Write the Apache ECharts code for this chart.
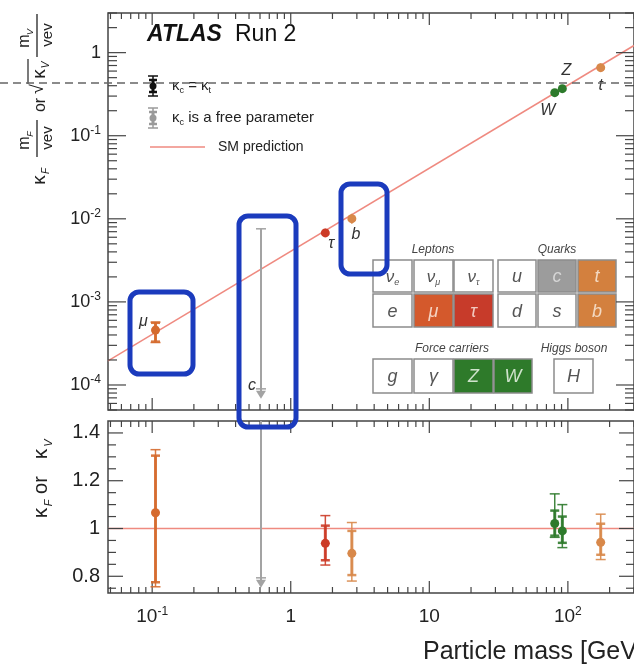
<!DOCTYPE html>
<html>
<head>
<meta charset="utf-8">
<script src="https://cdn.jsdelivr.net/npm/echarts@6/dist/echarts.min.js"></script>
<style>
  html, body { margin: 0; padding: 0; background: #ffffff; }
  #chart { width: 634px; height: 669px; }
</style>
</head>
<body>
<div id="chart"></div>
<script>
// Higgs vacuum expectation value [GeV]
const VEV = 246.22;

// Coupling-strength modifiers measured per particle (kappa), with the
// outer (total) and inner uncertainty intervals
const particles = ['μ', 'τ', 'b', 't', 'W', 'Z'];
const masses    = [0.1057, 1.777, 2.76, 172.5, 80.38, 91.19];
const kappa     = [1.066, 0.938, 0.896, 0.942, 1.021, 0.990];
const outerLo   = [0.756, 0.847, 0.780, 0.870, 0.963, 0.920];
const outerHi   = [1.330, 1.054, 1.025, 1.060, 1.145, 1.100];
const innerLo   = [0.775, 0.867, 0.805, 0.890, 0.970, 0.940];
const innerHi   = [1.305, 1.012, 0.990, 1.020, 1.075, 1.050];
const isBoson   = [false, false, false, false, true, true];

// Charm coupling fitted as a free parameter: upper end of the interval and
// the off-scale arrows in each panel
const charmMass = 0.61;
const charmKappaHi = 3.06;
const charmArrowReduced = 7.2e-5;
const charmArrowKappa = 0.76;

// Axis ranges and tick values
const X_MIN = 0.048, X_MAX = 300;
const Y_TOP_MIN = 5e-5, Y_TOP_MAX = 3;
const Y_BOT_MIN = 0.73, Y_BOT_MAX = 1.45;
const xMajorTicks = [0.1, 1, 10, 100];
const yTopMajorTicks = [1e-4, 1e-3, 1e-2, 1e-1, 1];
const yBotMajorTicks = [0.8, 1.0, 1.2, 1.4];
const yBotMinorTicks = [0.75, 0.85, 0.9, 0.95, 1.05, 1.1, 1.15, 1.25, 1.3, 1.35];

// Logarithmic minor ticks (2..9 in each decade) inside a range
function logMinor(lo, hi) {
  const out = [];
  for (let e = Math.floor(Math.log10(lo)); e <= Math.ceil(Math.log10(hi)); e++) {
    for (let k = 2; k <= 9; k++) {
      const v = k * Math.pow(10, e);
      if (v >= lo * 0.999 && v <= hi * 1.001) out.push(v);
    }
  }
  return out;
}

const FONT = '"Liberation Sans", Arial, Helvetica, sans-serif';

const markStyle = {
  'μ': { color: '#d56a2e', label: [-12, -9] },
  'τ': { color: '#cc3b27', label: [6, 11] },
  'b': { color: '#d8884a', label: [4, 16] },
  't': { color: '#d8884a', label: [0, 18] },
  'W': { color: '#2d7a2b', label: [-7, 18] },
  'Z': { color: '#2d7a2b', label: [4, -18] }
};

// Reduced coupling: kappa*m/v for fermions, sqrt(kappa)*m/v for vector bosons
function reduced(i, k) {
  return isBoson[i] ? Math.sqrt(k) * masses[i] / VEV : k * masses[i] / VEV;
}

const topData = particles.map((p, i) => [
  masses[i], reduced(i, kappa[i]), reduced(i, outerLo[i]), reduced(i, outerHi[i]),
  reduced(i, innerLo[i]), reduced(i, innerHi[i]), i
]);
const ratioData = particles.map((p, i) => [
  masses[i], kappa[i], outerLo[i], outerHi[i], innerLo[i], innerHi[i], i
]);

function measurementRenderer(withLabels) {
  return function (params, api) {
    const i = api.value(6);
    const st = markStyle[particles[i]];
    const m = api.value(0);
    const c = api.coord([m, api.value(1)]);
    const x = c[0];
    const yOL = api.coord([m, api.value(2)])[1];
    const yOH = api.coord([m, api.value(3)])[1];
    const yIL = api.coord([m, api.value(4)])[1];
    const yIH = api.coord([m, api.value(5)])[1];
    const seg = (x1, y1, x2, y2, w) => ({
      type: 'line', shape: { x1, y1, x2, y2 },
      style: { stroke: st.color, lineWidth: w, opacity: 0.9 }
    });
    const children = [seg(x, yOL, x, yOH, 1.5), seg(x, yIL, x, yIH, 3)];
    // caps only where the interval is wider than the marker itself
    if (Math.abs(yOL - yOH) > 14) {
      children.push(
        seg(x - 5, yOL, x + 5, yOL, 1.5),
        seg(x - 5, yOH, x + 5, yOH, 1.5),
        seg(x - 4.5, yIL, x + 4.5, yIL, 2.5),
        seg(x - 4.5, yIH, x + 4.5, yIH, 2.5)
      );
    }
    children.push({ type: 'circle', shape: { cx: x, cy: c[1], r: 4.5 }, style: { fill: st.color } });
    if (withLabels) {
      children.push({
        type: 'text', x: x + st.label[0], y: c[1] + st.label[1],
        style: {
          text: particles[i], fill: '#333', fontSize: 16, fontStyle: 'italic',
          fontFamily: FONT, align: 'center', verticalAlign: 'middle',
          textAlign: 'center', textVerticalAlign: 'middle'
        }
      });
    }
    return { type: 'group', children };
  };
}

function charmRenderer(withLabel) {
  return function (params, api) {
    const cs = params.coordSys;
    const m = api.value(0);
    const yHi = Math.max(api.coord([m, api.value(1)])[1], cs.y);
    const yArrow = api.coord([m, api.value(2)])[1];
    const x = api.coord([m, api.value(1)])[0];
    const col = '#a3a3a3';
    const children = [
      { type: 'line', shape: { x1: x, y1: yHi, x2: x, y2: yArrow }, style: { stroke: col, lineWidth: 2 } },
      { type: 'polygon', shape: { points: [[x - 5, yArrow - 6], [x + 5, yArrow - 6], [x, yArrow + 2]] }, style: { fill: col } },
      { type: 'line', shape: { x1: x - 5, y1: yArrow - 8, x2: x + 5, y2: yArrow - 8 }, style: { stroke: col, lineWidth: 1.5 } }
    ];
    if (yHi > cs.y + 1) {
      children.push({ type: 'line', shape: { x1: x - 5, y1: yHi, x2: x + 5, y2: yHi }, style: { stroke: col, lineWidth: 1.5 } });
    }
    if (withLabel) {
      children.push({
        type: 'text', x: x - 9, y: yArrow - 11,
        style: {
          text: 'c', fill: '#333', fontSize: 16, fontStyle: 'italic', fontFamily: FONT,
          align: 'center', verticalAlign: 'middle', textAlign: 'center', textVerticalAlign: 'middle'
        }
      });
    }
    return { type: 'group', children };
  };
}

// Inward frame ticks on all four sides of a panel
function tickRenderer(xMaj, xMin, yMaj, yMin, yRef, lens) {
  return function (params, api) {
    const cs = params.coordSys;
    const out = [];
    const add = (x1, y1, x2, y2) => out.push({
      type: 'line', shape: { x1, y1, x2, y2 }, style: { stroke: '#444', lineWidth: 1.2 }
    });
    const xs = (list, len) => list.forEach(v => {
      const x = api.coord([v, yRef])[0];
      add(x, cs.y, x, cs.y + len);
      add(x, cs.y + cs.height, x, cs.y + cs.height - len);
    });
    const ys = (list, len) => list.forEach(v => {
      const y = api.coord([1, v])[1];
      add(cs.x, y, cs.x + len, y);
      add(cs.x + cs.width, y, cs.x + cs.width - len, y);
    });
    xs(xMaj, lens[0]); xs(xMin, lens[1]); ys(yMaj, lens[2]); ys(yMin, lens[3]);
    return { type: 'group', children: out };
  };
}

function powerLabel(v) {
  const e = Math.round(Math.log10(v));
  if (e === 0) return '1';
  if (e === 1) return '10';
  return '10{sup|' + e + '}';
}

const supRich = { sup: { fontSize: 12, fontFamily: FONT, color: '#222', verticalAlign: 'top', lineHeight: 12 } };

// ---------- annotation graphics ----------
function txt(text, x, y, size, opts) {
  opts = opts || {};
  return {
    type: 'text', x, y,
    style: Object.assign({
      text, fill: opts.fill || '#222', fontSize: size, fontFamily: FONT,
      fontStyle: opts.italic ? 'italic' : 'normal', fontWeight: opts.bold ? 'bold' : 'normal',
      align: opts.align || 'center', verticalAlign: 'middle',
      textAlign: opts.align || 'center', textVerticalAlign: 'middle'
    }, opts.rich ? { rich: opts.rich } : {})
  };
}
function seg(x1, y1, x2, y2, color, w) {
  return { type: 'line', shape: { x1, y1, x2, y2 }, style: { stroke: color, lineWidth: w } };
}

const subRich = {
  k: { fontSize: 15, fontFamily: FONT, fill: '#222', color: '#222', lineHeight: 18 },
  s: { fontSize: 9, fontFamily: FONT, fill: '#222', color: '#222', verticalAlign: 'bottom', lineHeight: 9 }
};

// Legend entries
function errIcon(x, y, col) {
  return [
    seg(x, y - 10, x, y + 10, col, 1.5),
    seg(x - 5, y - 10, x + 5, y - 10, col, 1.5),
    seg(x - 5, y + 10, x + 5, y + 10, col, 1.5),
    seg(x, y - 6, x, y + 6, col, 3),
    seg(x - 4, y - 6, x + 4, y - 6, col, 2.5),
    seg(x - 4, y + 6, x + 4, y + 6, col, 2.5),
    { type: 'circle', shape: { cx: x, cy: y, r: 3.5 }, style: { fill: col } }
  ];
}

// Particle chart boxes
const boxW = 39;
function cell(x, y, w, h, fill, text, textColor, rich) {
  return [
    { type: 'rect', shape: { x, y, width: w, height: h }, style: { fill, stroke: '#8c8c8c', lineWidth: 1.5 } },
    {
      type: 'text', x: x + w / 2, y: y + h / 2 + 1,
      style: Object.assign({
        text, fill: textColor, fontSize: 18, fontStyle: 'italic', fontFamily: FONT,
        align: 'center', verticalAlign: 'middle', textAlign: 'center', textVerticalAlign: 'middle'
      }, rich ? { rich } : {})
    }
  ];
}
const nuRich = {
  n: { fontSize: 17, fontStyle: 'italic', fontFamily: FONT, color: '#555', lineHeight: 20 },
  s: { fontSize: 9, fontStyle: 'italic', fontFamily: FONT, color: '#555', verticalAlign: 'bottom', lineHeight: 9 }
};
const W0 = '#ffffff', T0 = '#555555';
const tableGraphics = [].concat(
  cell(373, 260, boxW, 32, W0, '{n|ν}{s|e}', T0, nuRich),
  cell(414, 260, boxW, 32, W0, '{n|ν}{s|μ}', T0, nuRich),
  cell(454, 260, boxW, 32, W0, '{n|ν}{s|τ}', T0, nuRich),
  cell(498, 260, 38, 32, W0, 'u', T0),
  cell(538, 260, 38, 32, '#9c9c9c', 'c', '#d6d6d6'),
  cell(578, 260, 38, 32, '#d3803e', 't', '#f3d9c2'),
  cell(373, 294, boxW, 33, W0, 'e', T0),
  cell(414, 294, boxW, 33, '#d4592c', 'μ', '#f5d3c3'),
  cell(454, 294, boxW, 33, '#c73b2a', 'τ', '#f2c9c0'),
  cell(498, 294, 38, 33, W0, 'd', T0),
  cell(538, 294, 38, 33, W0, 's', T0),
  cell(578, 294, 38, 33, '#d3803e', 'b', '#f3d9c2'),
  cell(373, 359, boxW, 34, W0, 'g', T0),
  cell(414, 359, boxW, 34, W0, 'γ', T0),
  cell(454, 359, boxW, 34, '#2e7a2a', 'Z', '#cfe3cc'),
  cell(494, 359, 38, 34, '#2e7a2a', 'W', '#cfe3cc'),
  cell(554, 359, 39, 34, W0, 'H', T0),
  [
    txt('Leptons', 433, 250, 12, { italic: true, fill: '#444' }),
    txt('Quarks', 557, 250, 12, { italic: true, fill: '#444' }),
    txt('Force carriers', 452, 349, 12, { italic: true, fill: '#444' }),
    txt('Higgs boson', 574, 349, 12, { italic: true, fill: '#444' })
  ]
);

// Rotated y-axis titles (local x runs up the page, local y to the right)
const topYTitle = {
  type: 'group', x: 37, y: 190, rotation: Math.PI / 2,
  children: [
    txt('κ', 10, 3, 19), txt('F', 19, 9, 10, { italic: true }),
    txt('m', 47, -12, 16), txt('F', 56, -7, 9, { italic: true }),
    seg(33, 0, 70, 0, '#222', 1.3),
    txt('vev', 52, 11, 15),
    txt('or', 85, 4, 16),
    txt('√', 101, 1, 18),
    seg(106, -9, 131, -9, '#222', 1.2),
    txt('κ', 116, 3, 19), txt('V', 125, 9, 10, { italic: true }),
    txt('m', 149, -12, 16), txt('V', 158, -7, 9, { italic: true }),
    seg(133, 0, 176, 0, '#222', 1.3),
    txt('vev', 155, 11, 15)
  ]
};
const botYTitle = {
  type: 'group', x: 41, y: 522, rotation: Math.PI / 2,
  children: [
    txt('κ', 9, 0, 21), txt('F', 19, 8, 11, { italic: true }),
    txt('or', 37, 0, 20),
    txt('κ', 68, 0, 21), txt('V', 79, 8, 11, { italic: true })
  ]
};

const graphics = [].concat(
  [
    txt('ATLAS', 147, 35, 23, { align: 'left', bold: true, italic: true, fill: '#111' }),
    txt('Run 2', 235, 35, 23, { align: 'left', fill: '#111' })
  ],
  errIcon(153, 86, '#111'),
  [txt('{k|κ}{s|c}{k| = κ}{s|t}', 172, 86, 14, { align: 'left', rich: subRich })],
  errIcon(153, 118, '#9a9a9a'),
  [txt('{k|κ}{s|c}{k| is a free parameter}', 172, 118, 14, { align: 'left', rich: subRich })],
  [seg(150, 147, 205, 147, '#ef8a80', 1.5), txt('SM prediction', 218, 147, 14, { align: 'left' })],
  tableGraphics,
  [topYTitle, botYTitle],
  [txt('Particle mass [GeV]', 423, 652, 25, { align: 'left' })],
  [
    { type: 'line', z: 90, shape: { x1: 0, y1: 83, x2: 634, y2: 83 },
      style: { stroke: '#666', lineWidth: 1.3, lineDash: [8, 5] } },
    { type: 'rect', z: 100, shape: { x: 130, y: 292, width: 63, height: 82, r: 9 },
      style: { fill: 'none', stroke: '#1b3bbd', lineWidth: 5 } },
    { type: 'rect', z: 100, shape: { x: 239, y: 216, width: 57, height: 211, r: 9 },
      style: { fill: 'none', stroke: '#1b3bbd', lineWidth: 5 } },
    { type: 'rect', z: 100, shape: { x: 341, y: 184, width: 46, height: 90, r: 9 },
      style: { fill: 'none', stroke: '#1b3bbd', lineWidth: 5 } }
  ]
);

const chart = echarts.init(document.getElementById('chart'), null, { renderer: 'canvas' });

const hiddenAxisBits = {
  axisTick: { show: false }, axisLine: { show: false }, splitLine: { show: false }
};

chart.setOption({
  animation: false,
  backgroundColor: '#ffffff',
  grid: [
    { left: 108, top: 13, width: 532, height: 397, show: true, borderColor: '#444', borderWidth: 1.5, backgroundColor: 'transparent' },
    { left: 108, top: 421, width: 532, height: 172, show: true, borderColor: '#444', borderWidth: 1.5, backgroundColor: 'transparent' }
  ],
  xAxis: [
    Object.assign({ type: 'log', logBase: 10, gridIndex: 0, min: X_MIN, max: X_MAX, axisLabel: { show: false } }, hiddenAxisBits),
    Object.assign({
      type: 'log', logBase: 10, gridIndex: 1, min: X_MIN, max: X_MAX,
      axisLabel: {
        show: true, fontSize: 19, fontFamily: FONT, color: '#222', margin: 13, lineHeight: 22,
        showMinLabel: false, showMaxLabel: false, formatter: powerLabel, rich: supRich
      }
    }, hiddenAxisBits)
  ],
  yAxis: [
    Object.assign({
      type: 'log', logBase: 10, gridIndex: 0, min: Y_TOP_MIN, max: Y_TOP_MAX,
      axisLabel: {
        fontSize: 18, fontFamily: FONT, color: '#222', margin: 7, lineHeight: 22,
        showMinLabel: false, showMaxLabel: false, formatter: powerLabel, rich: supRich
      }
    }, hiddenAxisBits),
    Object.assign({
      type: 'value', gridIndex: 1, min: Y_BOT_MIN, max: Y_BOT_MAX, splitNumber: 4,
      axisLabel: {
        fontSize: 20, fontFamily: FONT, color: '#222', margin: 8,
        showMinLabel: false, showMaxLabel: false
      }
    }, hiddenAxisBits)
  ],
  series: [
    {
      type: 'line', xAxisIndex: 0, yAxisIndex: 0, symbol: 'none', silent: true, z: 2,
      lineStyle: { color: '#ef8a80', width: 1.5 },
      data: [[X_MIN, X_MIN / VEV], [X_MAX, X_MAX / VEV]]
    },
    {
      type: 'line', xAxisIndex: 1, yAxisIndex: 1, symbol: 'none', silent: true, z: 2,
      lineStyle: { color: '#ef8a80', width: 1.5 },
      data: [[X_MIN, 1], [X_MAX, 1]]
    },
    {
      type: 'custom', xAxisIndex: 0, yAxisIndex: 0, silent: true, z: 4,
      renderItem: tickRenderer(xMajorTicks, logMinor(X_MIN, X_MAX), yTopMajorTicks, logMinor(Y_TOP_MIN, Y_TOP_MAX), 1e-2, [12, 6, 18, 9]),
      data: [[1, 1e-2]]
    },
    {
      type: 'custom', xAxisIndex: 1, yAxisIndex: 1, silent: true, z: 4,
      renderItem: tickRenderer(xMajorTicks, logMinor(X_MIN, X_MAX), yBotMajorTicks, yBotMinorTicks, 1, [12, 6, 15, 8]),
      data: [[1, 1]]
    },
    {
      type: 'custom', xAxisIndex: 0, yAxisIndex: 0, silent: true, z: 5,
      renderItem: charmRenderer(true),
      data: [[charmMass, charmKappaHi * charmMass / VEV, charmArrowReduced]]
    },
    {
      type: 'custom', xAxisIndex: 1, yAxisIndex: 1, silent: true, z: 5,
      renderItem: charmRenderer(false),
      data: [[charmMass, charmKappaHi, charmArrowKappa]]
    },
    {
      type: 'custom', xAxisIndex: 0, yAxisIndex: 0, silent: true, z: 6,
      renderItem: measurementRenderer(true), data: topData
    },
    {
      type: 'custom', xAxisIndex: 1, yAxisIndex: 1, silent: true, z: 6,
      renderItem: measurementRenderer(false), data: ratioData
    }
  ],
  graphic: graphics
});
</script>
</body>
</html>
